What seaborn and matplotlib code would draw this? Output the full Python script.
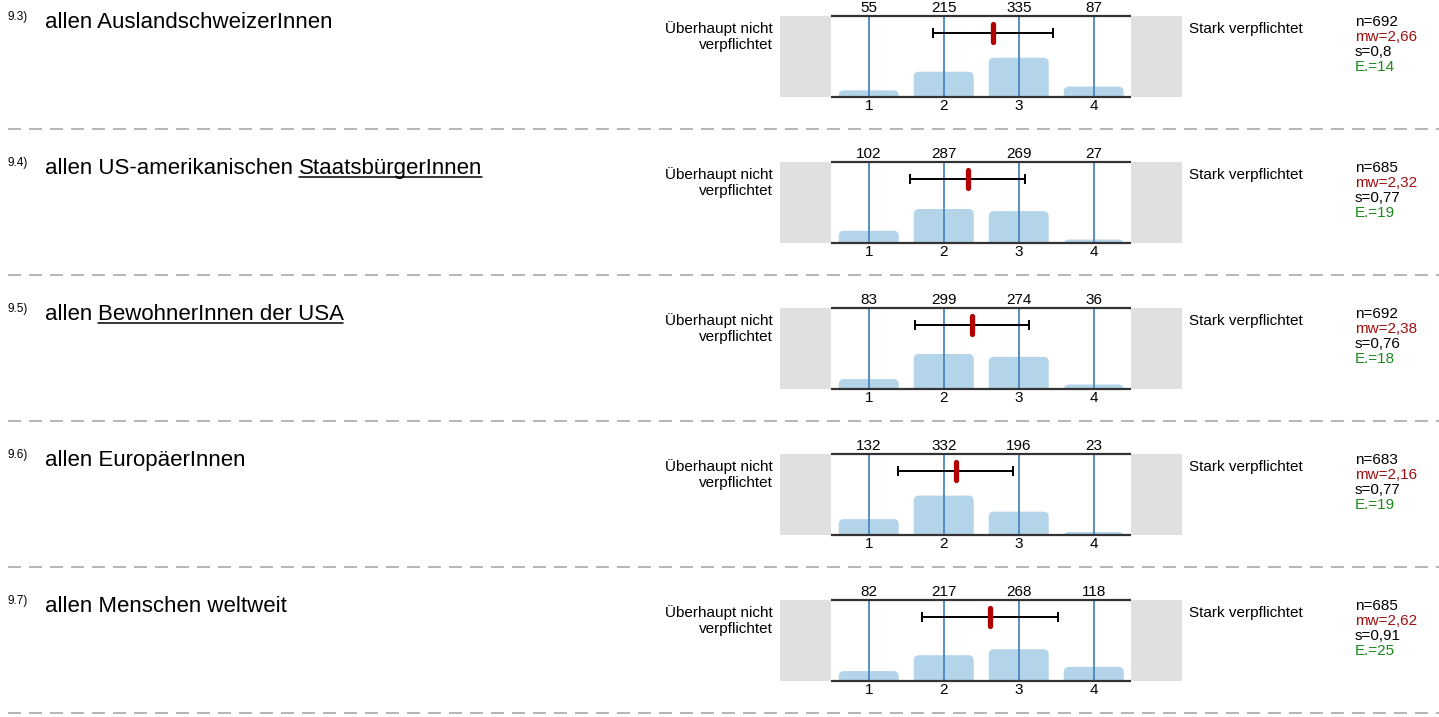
import numpy as np
import pandas as pd
import matplotlib
matplotlib.use("Agg")
import matplotlib.pyplot as plt
import seaborn as sns
from matplotlib.patches import FancyBboxPatch

# ---------------- data ----------------
item_ids = ["9.3)", "9.4)", "9.5)", "9.6)", "9.7)"]
item_prefix = ["allen AuslandschweizerInnen", "allen US-amerikanischen ", "allen ",
               "allen EuropäerInnen", "allen Menschen weltweit"]
item_underlined = ["", "StaatsbürgerInnen", "BewohnerInnen der USA", "", ""]
categories = [1, 2, 3, 4]
counts_93 = [55, 215, 335, 87]
counts_94 = [102, 287, 269, 27]
counts_95 = [83, 299, 274, 36]
counts_96 = [132, 332, 196, 23]
counts_97 = [82, 217, 268, 118]
all_counts = [counts_93, counts_94, counts_95, counts_96, counts_97]
n_values = [692, 685, 692, 683, 685]
mw_labels = ["2,66", "2,32", "2,38", "2,16", "2,62"]
s_labels = ["0,8", "0,77", "0,76", "0,77", "0,91"]
e_values = [14, 19, 18, 19, 25]
left_label = ["Überhaupt nicht", "verpflichtet"]
right_label = "Stark verpflichtet"

# ---------------- style ----------------
sns.set_style("white")
plt.rcParams["font.family"] = ["Liberation Sans", "DejaVu Sans"]
plt.rcParams["text.color"] = "black"
plt.rcParams["xtick.color"] = "black"
plt.rcParams["xtick.labelcolor"] = "black"

W, H = 1439, 717
fig = plt.figure(figsize=(W / 100, H / 100), dpi=100)

# overlay axes in pixel coordinates for text / separators
ov = fig.add_axes([0, 0, 1, 1])
ov.set_xlim(0, W)
ov.set_ylim(H, 0)
ov.axis("off")

BAR_C = "#b4d4ea"
LINE_C = "#4a86c1"
GRAY_C = "#e0e0e0"
RED_C = "#b00000"
MW_C = "#9e1010"
E_C = "#1a8a1a"
FS = 11
STEP = 146

renderer = fig.canvas.get_renderer()

for i in range(5):
    off = STEP * i
    top, bot = 16.3 + off, 96.7 + off
    ax = fig.add_axes([780 / W, 1 - bot / H, 402 / W, (bot - top) / H])
    props = np.array(all_counts[i]) / n_values[i]
    df = pd.DataFrame({"cat": categories, "prop": props})
    sns.barplot(data=df, x="cat", y="prop", native_scale=True, width=0.8,
                color=BAR_C, saturation=1, ax=ax, zorder=2)
    # rounded bar tops
    for p in list(ax.patches):
        x0, w, h = p.get_x(), p.get_width(), p.get_height()
        p.remove()
        ext = 0.25
        fb = FancyBboxPatch((x0, -ext), w, h + ext,
                            boxstyle="round,pad=0,rounding_size=0.07",
                            mutation_aspect=0.93, facecolor=BAR_C,
                            edgecolor="none", zorder=2)
        ax.add_patch(fb)
    ax.set_xlim(-0.183, 5.177)
    ax.set_ylim(0, 1)
    ax.axvspan(-0.183, 0.5, color=GRAY_C, lw=0, zorder=0)
    ax.axvspan(4.5, 5.177, color=GRAY_C, lw=0, zorder=0)
    for c in categories:
        ax.axvline(c, color=LINE_C, lw=1.3, zorder=3)
    ax.hlines([0, 1], 0.5, 4.5, color="#333333", lw=1.6, zorder=4, clip_on=False)
    for s in ax.spines.values():
        s.set_visible(False)
    ax.set_xlabel("")
    ax.set_ylabel("")
    ax.set_yticks([])
    ax.set_xticks(categories)
    ax.set_xticklabels([str(c) for c in categories], fontsize=FS, color="black")
    ax.tick_params(axis="x", length=0, pad=1.5)
    for c, cnt in zip(categories, all_counts[i]):
        ax.annotate(str(cnt), (c, 1), xytext=(0, 3.0), textcoords="offset points",
                    ha="center", va="baseline", fontsize=FS, color="black")
    mean = float(mw_labels[i].replace(",", "."))
    sd = float(s_labels[i].replace(",", "."))
    ax.errorbar(mean, 0.796, xerr=sd, fmt="none", ecolor="black",
                elinewidth=1.4, capsize=3.8, capthick=1.4, zorder=5)
    ax.plot([mean, mean], [0.684, 0.90], color=RED_C, lw=3.8,
            solid_capstyle="round", zorder=6)

    # left / right labels
    ov.text(772.7, 33 + off, left_label[0], ha="right", va="baseline", fontsize=FS)
    ov.text(772.7, 49 + off, left_label[1], ha="right", va="baseline", fontsize=FS)
    ov.text(1189, 33 + off, right_label, ha="left", va="baseline", fontsize=FS)

    # stats
    ov.text(1355, 26 + off, f"n={n_values[i]}", va="baseline", fontsize=FS)
    ov.text(1355, 41 + off, f"mw={mw_labels[i]}", va="baseline", fontsize=FS, color=MW_C)
    ov.text(1355, 56 + off, f"s={s_labels[i]}", va="baseline", fontsize=FS)
    ov.text(1355, 71 + off, f"E.={e_values[i]}", va="baseline", fontsize=FS, color=E_C)

    # titles
    ov.text(8, 20 + off, item_ids[i], va="baseline", fontsize=8.5)
    t = ov.text(45, 28.3 + off, item_prefix[i], va="baseline", fontsize=16)
    if item_underlined[i]:
        bb = t.get_window_extent(renderer=renderer)
        x_start = 45 + bb.width
        t2 = ov.text(x_start, 28.3 + off, item_underlined[i], va="baseline", fontsize=16)
        bb2 = t2.get_window_extent(renderer=renderer)
        ov.plot([x_start, x_start + bb2.width - 1], [30.5 + off, 30.5 + off],
                color="black", lw=1.1)

    # dashed separator
    ov.plot([8, W], [129 + off, 129 + off], color="#b0b0b0", lw=1.3,
            dashes=(13 / 1.3 / 1.389, 8 / 1.3 / 1.389))

fig.savefig("out.png", dpi=100)
